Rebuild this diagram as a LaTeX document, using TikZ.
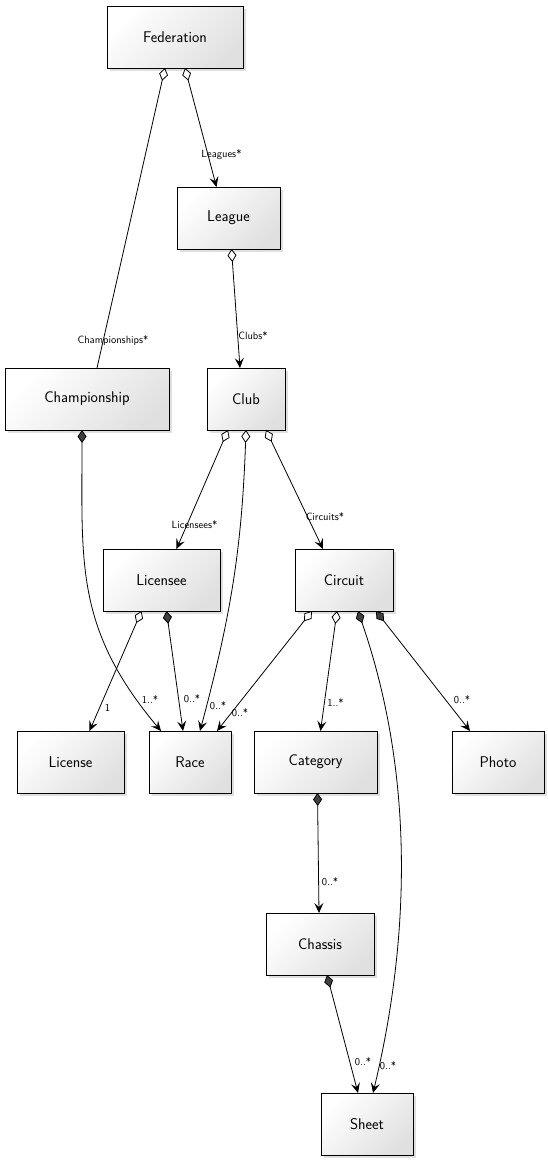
\documentclass[tikz,border=0pt]{standalone}
\usetikzlibrary{arrows.meta,shadows}
\begin{document}
\begin{tikzpicture}[x=1pt, y=1pt,
    cls/.style={draw, line width=0.9pt, minimum height=62pt, inner sep=2pt, outer sep=0pt,
      top color=white, bottom color=black!12, shading angle=45,
      drop shadow={opacity=0.25, shadow xshift=3pt, shadow yshift=-3pt},
      font=\sffamily\fontsize{15.5}{18}\selectfont},
    lbl/.style={font=\sffamily\fontsize{10.5}{12}\selectfont, inner sep=1pt},
    link/.style={line width=0.8pt},
    aggline/.style={link, arrows={Diamond[fill=white, length=13pt, width=9pt]-}},
    agg/.style={link, arrows={Diamond[fill=white, length=13pt, width=9pt]-Stealth[length=10pt, width=9pt, inset=4pt]}},
    comp/.style={link, arrows={Diamond[fill=black!75, length=13pt, width=9pt]-Stealth[length=10pt, width=9pt, inset=4pt]}},
  ]
    \useasboundingbox (0,0) rectangle (548,-1160);

    % classes
    \node[cls, minimum width=136pt] (federation) at (175,-37) {Federation};
    \node[cls, minimum width=103pt] (league) at (228.5,-218) {League};
    \node[cls, minimum width=164pt] (championship) at (87,-399) {Championship};
    \node[cls, minimum width=78pt] (club) at (246,-399) {Club};
    \node[cls, minimum width=117pt] (licensee) at (161.5,-580) {Licensee};
    \node[cls, minimum width=98pt] (circuit) at (344,-580) {Circuit};
    \node[cls, minimum width=107pt] (license) at (70.5,-762) {License};
    \node[cls, minimum width=82pt] (race) at (190,-762) {Race};
    \node[cls, minimum width=123pt] (category) at (315.5,-762) {Category};
    \node[cls, minimum width=92pt] (photo) at (498,-762) {Photo};
    \node[cls, minimum width=108pt] (chassis) at (320,-944) {Chassis};
    \node[cls, minimum width=92pt] (sheet) at (367,-1124) {Sheet};

    % associations
    \draw[aggline] ([xshift=-10pt]federation.south) -- node[lbl, pos=1, xshift=16pt, yshift=27pt] {Championships*} ([xshift=10pt]championship.north);
    \draw[agg] ([xshift=10pt]federation.south) -- node[lbl, pos=1, xshift=5pt, yshift=32pt] {Leagues*} ([xshift=-12pt]league.north);
    \draw[agg] ([xshift=3pt]league.south) -- node[lbl, pos=1, xshift=13pt, yshift=32pt] {Clubs*} ([xshift=-6pt]club.north);
    \draw[comp] ([xshift=-5pt]championship.south) to[out=-90, in=130, looseness=1.1] node[lbl, pos=1, xshift=-11pt, yshift=31pt] {1..*} ([xshift=-29pt]race.north);

    \draw[agg] ([xshift=-18pt]club.south) -- node[lbl, pos=1, xshift=18pt, yshift=24pt] {Licensees*} ([xshift=15pt]licensee.north);
    \draw[agg] (club.south) to[out=-92, in=75] node[lbl, pos=1, xshift=18pt, yshift=25pt] {0..*} ([xshift=10pt]race.north);
    \draw[agg] ([xshift=20pt]club.south) -- node[lbl, pos=1, xshift=2pt, yshift=32pt] {Circuits*} ([xshift=-21pt]circuit.north);

    \draw[agg] ([xshift=-20pt]licensee.south) -- node[lbl, pos=1, xshift=18pt, yshift=23pt] {1} ([xshift=19pt]license.north);
    \draw[comp] ([xshift=5pt]licensee.south) -- node[lbl, pos=1, xshift=9pt, yshift=32pt] {0..*} ([xshift=-7pt]race.north);

    \draw[agg] ([xshift=-32pt]circuit.south) -- node[lbl, pos=1, xshift=23pt, yshift=18pt] {0..*} ([xshift=27pt]race.north);
    \draw[agg] ([xshift=-7pt]circuit.south) -- node[lbl, pos=1, xshift=15pt, yshift=28pt] {1..*} ([xshift=5pt]category.north);
    \draw[comp] ([xshift=14pt]circuit.south) .. controls +(62,-180) and +(32,133) .. ([xshift=6pt]sheet.north) node[lbl, pos=1, xshift=15pt, yshift=27pt] {0..*};
    \draw[comp] ([xshift=32pt]circuit.south) -- node[lbl, pos=1, xshift=-8pt, yshift=31pt] {0..*} ([xshift=-28pt]photo.north);

    \draw[comp] ([xshift=2pt]category.south) -- node[lbl, pos=1, xshift=11pt, yshift=31pt] {0..*} ([xshift=-1pt]chassis.north);
    \draw[comp] ([xshift=7pt]chassis.south) -- node[lbl, pos=1, xshift=5pt, yshift=31pt] {0..*} ([xshift=-9pt]sheet.north);
  \end{tikzpicture}
\end{document}
